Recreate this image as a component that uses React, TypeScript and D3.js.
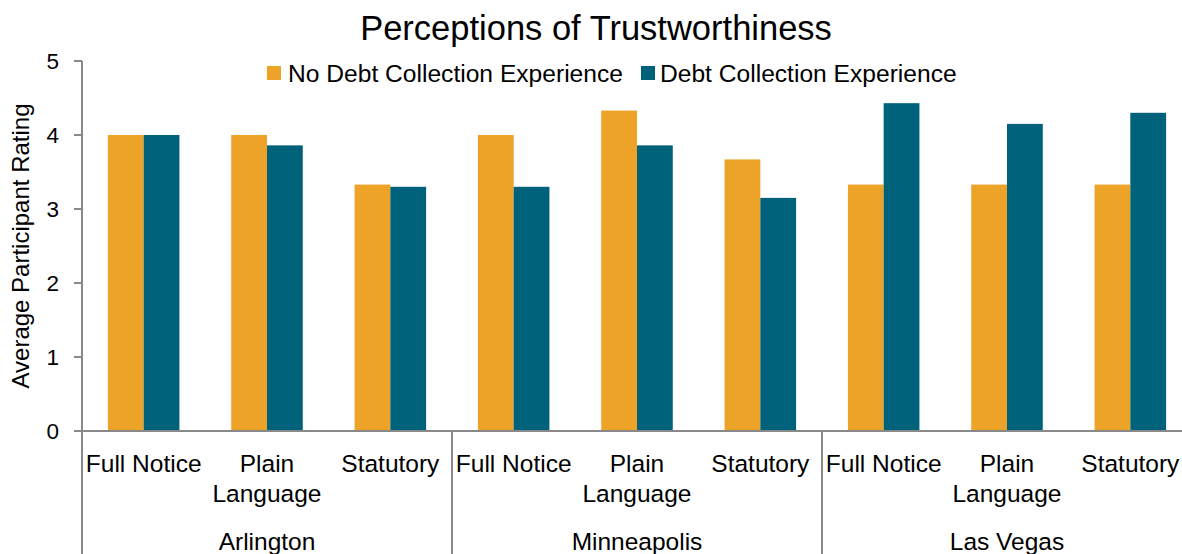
import React from "react";
import * as d3 from "d3";

const cities = ["Arlington", "Minneapolis", "Las Vegas"];
const notices = ["Full Notice", "Plain Language", "Statutory"];
const seriesNames = ["No Debt Collection Experience", "Debt Collection Experience"];
const noExperience = [4.0, 4.0, 3.33, 4.0, 4.33, 3.67, 3.33, 3.33, 3.33];
const withExperience = [4.0, 3.86, 3.3, 3.3, 3.86, 3.15, 4.43, 4.15, 4.3];
const yTicks = [0, 1, 2, 3, 4, 5];
const colors = ["#EDA228", "#00617A"];

const W = 1182;
const H = 554;
const left = 82;
const right = 1192;
const top = 61;
const bottom = 431;
const axisColor = "#898989";
const font = "'Liberation Sans', Arial, sans-serif";

export default function App() {
  const cats = cities.flatMap((c) => notices.map((n) => `${c}|${n}`));
  const x = d3.scaleBand<string>().domain(cats).range([left, right]).paddingInner(0.42).paddingOuter(0.21);
  const y = d3.scaleLinear().domain([0, 5]).range([bottom, top]);
  const groupX = d3.scaleBand<string>().domain(cities).range([left, right]);
  const bw = x.bandwidth() / 2;
  const series = [noExperience, withExperience];

  return (
    <svg width={W} height={H} style={{ position: "absolute", left: 0, top: 0, background: "#fff" }}>
      <text x={596} y={40} textAnchor="middle" fontFamily={font} fontSize={34.5} fill="#000">
        Perceptions of Trustworthiness
      </text>
      {/* legend */}
      <g fontFamily={font} fontSize={24.6}>
        <rect x={267} y={66} width={14} height={14} fill={colors[0]} />
        <text x={288} y={82} fill="#000">{seriesNames[0]}</text>
        <rect x={641} y={66} width={14} height={14} fill={colors[1]} />
        <text x={660} y={82} fill="#000">{seriesNames[1]}</text>
      </g>
      {/* bars */}
      {series.map((vals, si) =>
        vals.map((v, i) => (
          <rect
            key={`${si}-${i}`}
            x={(x(cats[i]) as number) + si * bw}
            y={y(v)}
            width={bw}
            height={y(0) - y(v)}
            fill={colors[si]}
          />
        ))
      )}
      {/* y axis */}
      <line x1={left} x2={left} y1={top} y2={bottom} stroke={axisColor} strokeWidth={2} />
      {yTicks.map((t) => (
        <g key={t}>
          <line x1={left - 8} x2={left} y1={y(t)} y2={y(t)} stroke={axisColor} strokeWidth={2} />
          <text x={59} y={y(t) + 8} textAnchor="end" fontFamily={font} fontSize={22.5} fill="#000">
            {t}
          </text>
        </g>
      ))}
      <text
        transform={`translate(29, 246) rotate(-90)`}
        textAnchor="middle"
        fontFamily={font}
        fontSize={24}
        fill="#000"
      >
        Average Participant Rating
      </text>
      {/* x axis */}
      <line x1={left} x2={W} y1={bottom} y2={bottom} stroke={axisColor} strokeWidth={2} />
      {cities.map((c) => (
        <line
          key={c}
          x1={groupX(c) as number}
          x2={groupX(c) as number}
          y1={bottom}
          y2={H}
          stroke={axisColor}
          strokeWidth={2}
        />
      ))}
      {cats.map((cat) => {
        const n = cat.split("|")[1];
        const cx = (x(cat) as number) + x.bandwidth() / 2;
        const words = n === "Plain Language" ? ["Plain", "Language"] : [n];
        return (
          <text key={cat} textAnchor="middle" fontFamily={font} fontSize={24.5} fill="#000">
            {words.map((w, k) => (
              <tspan key={k} x={cx} y={472 + k * 30}>
                {w}
              </tspan>
            ))}
          </text>
        );
      })}
      {cities.map((c) => (
        <text
          key={c}
          x={(groupX(c) as number) + groupX.bandwidth() / 2}
          y={550}
          textAnchor="middle"
          fontFamily={font}
          fontSize={24.5}
          fill="#000"
        >
          {c}
        </text>
      ))}
    </svg>
  );
}
